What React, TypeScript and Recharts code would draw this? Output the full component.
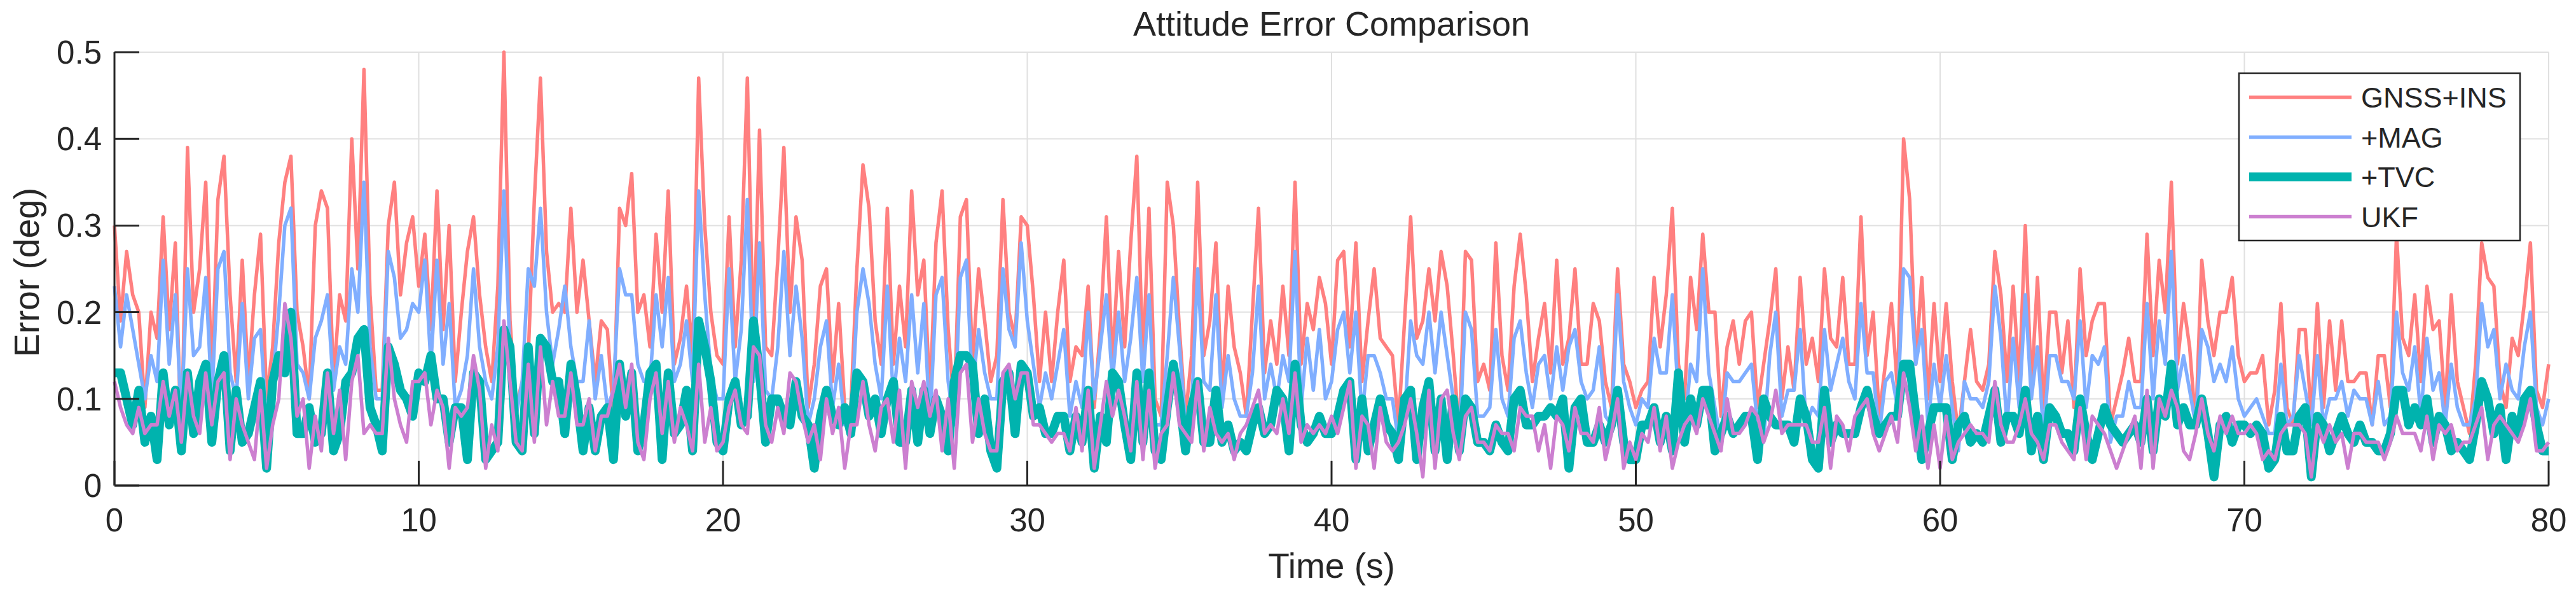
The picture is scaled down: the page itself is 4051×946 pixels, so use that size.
import { LineChart, Line, XAxis, YAxis, CartesianGrid } from 'recharts'

const W = 4051
const H = 946
const FONT = '"Liberation Sans", Arial, Helvetica, sans-serif'
const INK = '#262626'

// samples every 0.2 s, 0..80 s
const SAMPLE_STEP = 0.2

const timeTicks = [0, 10, 20, 30, 40, 50, 60, 70, 80]
const errorTicks = [0, 0.1, 0.2, 0.3, 0.4, 0.5]

const gnssIns = [
  0.30,0.19,0.27,0.22,0.20,0.09,0.20,0.17,0.31,0.18,
  0.28,0.04,0.39,0.20,0.25,0.35,0.12,0.33,0.38,0.22,
  0.12,0.26,0.12,0.22,0.29,0.10,0.16,0.28,0.35,0.38,
  0.20,0.16,0.10,0.30,0.34,0.32,0.12,0.22,0.19,0.40,
  0.25,0.48,0.22,0.11,0.11,0.30,0.35,0.22,0.28,0.31,
  0.23,0.29,0.18,0.34,0.18,0.30,0.12,0.20,0.27,0.31,
  0.22,0.16,0.12,0.23,0.50,0.19,0.09,0.12,0.15,0.33,
  0.47,0.27,0.20,0.21,0.20,0.32,0.20,0.26,0.19,0.12,
  0.19,0.18,0.08,0.32,0.30,0.36,0.20,0.22,0.16,0.29,
  0.20,0.34,0.14,0.17,0.23,0.15,0.47,0.30,0.20,0.15,
  0.14,0.31,0.16,0.26,0.47,0.16,0.41,0.16,0.15,0.26,
  0.39,0.20,0.31,0.26,0.09,0.14,0.23,0.25,0.12,0.21,
  0.09,0.09,0.25,0.37,0.32,0.19,0.14,0.32,0.14,0.23,
  0.16,0.34,0.22,0.26,0.10,0.28,0.34,0.18,0.09,0.31,
  0.33,0.14,0.25,0.19,0.12,0.15,0.33,0.20,0.17,0.31,
  0.30,0.22,0.12,0.20,0.12,0.20,0.26,0.12,0.16,0.15,
  0.23,0.09,0.18,0.31,0.14,0.27,0.16,0.28,0.38,0.14,
  0.32,0.10,0.08,0.35,0.30,0.18,0.08,0.15,0.35,0.15,
  0.19,0.28,0.10,0.23,0.16,0.13,0.08,0.20,0.32,0.13,
  0.19,0.14,0.23,0.15,0.35,0.14,0.21,0.18,0.24,0.21,
  0.14,0.26,0.27,0.16,0.28,0.12,0.19,0.25,0.17,0.16,
  0.15,0.07,0.19,0.31,0.17,0.19,0.25,0.19,0.27,0.23,
  0.15,0.06,0.27,0.26,0.12,0.14,0.11,0.28,0.15,0.11,
  0.23,0.29,0.22,0.12,0.17,0.21,0.13,0.26,0.14,0.17,
  0.25,0.14,0.14,0.21,0.19,0.12,0.09,0.25,0.14,0.12,
  0.09,0.11,0.12,0.24,0.16,0.22,0.32,0.14,0.10,0.24,
  0.18,0.29,0.20,0.20,0.08,0.16,0.19,0.14,0.19,0.20,
  0.09,0.14,0.19,0.25,0.10,0.16,0.11,0.24,0.14,0.17,
  0.12,0.25,0.17,0.16,0.24,0.14,0.14,0.31,0.15,0.20,
  0.08,0.14,0.21,0.11,0.40,0.33,0.14,0.24,0.10,0.21,
  0.12,0.21,0.12,0.06,0.12,0.18,0.12,0.11,0.14,0.27,
  0.22,0.12,0.23,0.12,0.30,0.11,0.24,0.09,0.20,0.20,
  0.13,0.19,0.09,0.25,0.15,0.19,0.21,0.21,0.07,0.10,
  0.13,0.17,0.12,0.12,0.29,0.15,0.26,0.20,0.35,0.14,
  0.21,0.16,0.07,0.26,0.19,0.15,0.20,0.20,0.24,0.15,
  0.12,0.13,0.13,0.15,0.07,0.11,0.21,0.09,0.07,0.18,
  0.18,0.08,0.21,0.09,0.19,0.11,0.19,0.12,0.12,0.13,
  0.13,0.07,0.15,0.15,0.09,0.29,0.17,0.15,0.22,0.12,
  0.23,0.18,0.19,0.09,0.22,0.12,0.09,0.06,0.14,0.28,
  0.24,0.23,0.12,0.09,0.17,0.15,0.21,0.28,0.11,0.09,
  0.14,
]

const mag = [
  0.23,0.16,0.22,0.18,0.14,0.10,0.15,0.12,0.26,0.14,
  0.22,0.08,0.25,0.15,0.16,0.24,0.10,0.25,0.27,0.13,
  0.10,0.21,0.10,0.17,0.18,0.07,0.12,0.20,0.30,0.32,
  0.14,0.13,0.10,0.17,0.19,0.22,0.11,0.16,0.14,0.25,
  0.20,0.35,0.16,0.10,0.10,0.27,0.24,0.17,0.18,0.21,
  0.20,0.26,0.14,0.26,0.14,0.21,0.09,0.11,0.15,0.25,
  0.16,0.12,0.10,0.16,0.34,0.15,0.08,0.12,0.25,0.23,
  0.32,0.20,0.14,0.18,0.23,0.16,0.12,0.12,0.19,0.10,
  0.15,0.09,0.11,0.25,0.22,0.22,0.14,0.12,0.12,0.22,
  0.16,0.24,0.12,0.14,0.19,0.12,0.34,0.22,0.13,0.10,
  0.10,0.25,0.12,0.18,0.33,0.12,0.28,0.11,0.10,0.16,
  0.27,0.15,0.23,0.17,0.07,0.10,0.16,0.19,0.09,0.14,
  0.07,0.07,0.20,0.25,0.21,0.14,0.10,0.23,0.10,0.17,
  0.12,0.22,0.13,0.21,0.07,0.22,0.24,0.12,0.07,0.24,
  0.26,0.11,0.18,0.13,0.10,0.10,0.25,0.18,0.16,0.28,
  0.19,0.14,0.09,0.13,0.10,0.14,0.18,0.08,0.12,0.09,
  0.20,0.10,0.16,0.22,0.12,0.20,0.12,0.17,0.24,0.12,
  0.22,0.07,0.07,0.15,0.24,0.16,0.07,0.09,0.25,0.12,
  0.11,0.22,0.09,0.15,0.10,0.08,0.08,0.13,0.23,0.10,
  0.14,0.10,0.15,0.12,0.27,0.09,0.17,0.11,0.18,0.10,
  0.12,0.18,0.20,0.13,0.20,0.08,0.15,0.15,0.13,0.10,
  0.10,0.05,0.08,0.19,0.15,0.14,0.20,0.13,0.20,0.15,
  0.10,0.05,0.20,0.18,0.08,0.08,0.09,0.18,0.10,0.08,
  0.17,0.19,0.13,0.09,0.14,0.15,0.10,0.16,0.11,0.16,
  0.18,0.12,0.10,0.11,0.16,0.08,0.07,0.22,0.12,0.09,
  0.07,0.10,0.09,0.17,0.13,0.13,0.22,0.10,0.06,0.14,
  0.12,0.25,0.13,0.09,0.05,0.13,0.12,0.12,0.13,0.14,
  0.07,0.05,0.15,0.20,0.08,0.11,0.11,0.18,0.07,0.09,
  0.08,0.18,0.11,0.14,0.17,0.12,0.10,0.21,0.13,0.13,
  0.06,0.12,0.13,0.09,0.25,0.24,0.14,0.18,0.07,0.14,
  0.09,0.15,0.09,0.04,0.12,0.10,0.10,0.09,0.12,0.23,
  0.17,0.07,0.17,0.09,0.22,0.10,0.16,0.06,0.15,0.15,
  0.12,0.12,0.10,0.19,0.09,0.15,0.14,0.16,0.05,0.08,
  0.08,0.12,0.09,0.09,0.21,0.10,0.19,0.14,0.27,0.11,
  0.15,0.11,0.07,0.18,0.16,0.12,0.14,0.12,0.16,0.10,
  0.08,0.09,0.10,0.08,0.06,0.06,0.14,0.07,0.08,0.15,
  0.11,0.07,0.15,0.07,0.10,0.10,0.12,0.08,0.11,0.10,
  0.10,0.07,0.12,0.07,0.08,0.20,0.13,0.11,0.16,0.08,
  0.17,0.11,0.13,0.07,0.14,0.09,0.07,0.07,0.10,0.21,
  0.16,0.18,0.10,0.14,0.11,0.10,0.16,0.20,0.09,0.07,
  0.10,
]

const tvc = [
  0.13,0.13,0.10,0.07,0.11,0.05,0.08,0.03,0.13,0.07,
  0.11,0.04,0.13,0.06,0.12,0.14,0.05,0.12,0.15,0.04,
  0.11,0.05,0.06,0.09,0.12,0.02,0.12,0.15,0.13,0.20,
  0.06,0.06,0.09,0.05,0.06,0.13,0.04,0.06,0.12,0.13,
  0.17,0.18,0.09,0.07,0.04,0.16,0.14,0.11,0.10,0.08,
  0.13,0.12,0.15,0.10,0.10,0.05,0.09,0.09,0.03,0.13,
  0.12,0.03,0.04,0.05,0.18,0.16,0.05,0.04,0.16,0.06,
  0.17,0.16,0.12,0.12,0.06,0.14,0.10,0.04,0.09,0.04,
  0.08,0.09,0.03,0.14,0.08,0.13,0.04,0.07,0.13,0.14,
  0.03,0.13,0.06,0.07,0.11,0.04,0.19,0.16,0.12,0.05,
  0.04,0.10,0.12,0.07,0.08,0.19,0.13,0.05,0.10,0.10,
  0.08,0.07,0.12,0.08,0.07,0.02,0.08,0.11,0.08,0.07,
  0.09,0.06,0.13,0.12,0.08,0.10,0.06,0.10,0.12,0.05,
  0.05,0.11,0.05,0.11,0.06,0.10,0.08,0.04,0.12,0.15,
  0.15,0.14,0.06,0.10,0.04,0.02,0.12,0.13,0.06,0.14,
  0.13,0.08,0.09,0.06,0.06,0.08,0.08,0.04,0.08,0.05,
  0.11,0.02,0.08,0.05,0.13,0.12,0.07,0.03,0.13,0.05,
  0.13,0.04,0.03,0.09,0.14,0.10,0.04,0.09,0.12,0.05,
  0.05,0.11,0.05,0.07,0.04,0.05,0.04,0.07,0.09,0.06,
  0.07,0.11,0.10,0.04,0.14,0.07,0.05,0.06,0.08,0.06,
  0.06,0.08,0.11,0.12,0.03,0.10,0.04,0.07,0.10,0.07,
  0.06,0.03,0.10,0.11,0.03,0.09,0.12,0.04,0.10,0.03,
  0.10,0.04,0.10,0.09,0.05,0.05,0.04,0.07,0.05,0.04,
  0.10,0.11,0.07,0.07,0.08,0.08,0.09,0.08,0.10,0.02,
  0.09,0.10,0.05,0.05,0.07,0.05,0.07,0.11,0.05,0.03,
  0.03,0.07,0.07,0.09,0.05,0.08,0.04,0.13,0.05,0.10,
  0.07,0.11,0.11,0.04,0.06,0.08,0.06,0.07,0.08,0.08,
  0.03,0.10,0.08,0.07,0.07,0.07,0.05,0.10,0.08,0.03,
  0.02,0.11,0.05,0.07,0.06,0.06,0.06,0.09,0.11,0.08,
  0.06,0.07,0.08,0.08,0.14,0.14,0.08,0.03,0.06,0.09,
  0.09,0.09,0.03,0.07,0.08,0.05,0.06,0.05,0.08,0.11,
  0.05,0.08,0.08,0.06,0.11,0.04,0.08,0.03,0.09,0.08,
  0.06,0.06,0.04,0.10,0.06,0.03,0.06,0.09,0.07,0.06,
  0.05,0.06,0.07,0.05,0.10,0.04,0.10,0.08,0.14,0.07,
  0.09,0.07,0.07,0.10,0.06,0.01,0.07,0.08,0.05,0.07,
  0.07,0.06,0.07,0.06,0.02,0.03,0.08,0.04,0.04,0.08,
  0.09,0.01,0.08,0.07,0.04,0.06,0.08,0.06,0.05,0.07,
  0.05,0.05,0.04,0.04,0.06,0.11,0.11,0.07,0.09,0.07,
  0.10,0.05,0.08,0.07,0.04,0.05,0.04,0.03,0.07,0.12,
  0.10,0.06,0.09,0.03,0.08,0.06,0.10,0.11,0.07,0.04,
  0.04,
]

const ukf = [
  0.12,0.09,0.07,0.06,0.09,0.06,0.07,0.07,0.12,0.08,
  0.11,0.05,0.13,0.08,0.06,0.13,0.07,0.12,0.13,0.03,
  0.10,0.07,0.05,0.03,0.11,0.02,0.07,0.10,0.21,0.17,
  0.08,0.10,0.02,0.08,0.04,0.13,0.06,0.11,0.03,0.12,
  0.15,0.06,0.07,0.06,0.06,0.17,0.10,0.07,0.05,0.12,
  0.12,0.13,0.07,0.11,0.09,0.02,0.09,0.08,0.09,0.15,
  0.11,0.02,0.07,0.04,0.19,0.12,0.05,0.04,0.14,0.05,
  0.16,0.07,0.12,0.08,0.08,0.13,0.07,0.07,0.10,0.04,
  0.08,0.08,0.11,0.14,0.09,0.14,0.05,0.03,0.10,0.13,
  0.06,0.12,0.05,0.09,0.07,0.04,0.14,0.05,0.09,0.04,
  0.05,0.09,0.11,0.07,0.06,0.16,0.15,0.07,0.05,0.09,
  0.06,0.13,0.12,0.08,0.05,0.07,0.03,0.10,0.06,0.09,
  0.02,0.07,0.07,0.12,0.07,0.04,0.09,0.10,0.05,0.11,
  0.02,0.12,0.09,0.12,0.08,0.11,0.04,0.10,0.02,0.13,
  0.14,0.05,0.10,0.06,0.04,0.04,0.13,0.14,0.10,0.13,
  0.13,0.07,0.07,0.06,0.05,0.06,0.06,0.04,0.09,0.04,
  0.11,0.02,0.07,0.12,0.08,0.11,0.08,0.04,0.12,0.03,
  0.11,0.02,0.06,0.07,0.13,0.07,0.06,0.05,0.12,0.04,
  0.09,0.06,0.05,0.06,0.03,0.06,0.07,0.09,0.11,0.06,
  0.07,0.06,0.10,0.06,0.13,0.05,0.07,0.06,0.07,0.06,
  0.08,0.06,0.09,0.12,0.02,0.08,0.07,0.02,0.09,0.05,
  0.04,0.05,0.07,0.10,0.06,0.01,0.11,0.02,0.10,0.11,
  0.06,0.03,0.08,0.09,0.05,0.05,0.04,0.07,0.06,0.06,
  0.04,0.09,0.08,0.08,0.04,0.07,0.02,0.08,0.07,0.04,
  0.09,0.06,0.06,0.05,0.09,0.03,0.06,0.10,0.02,0.05,
  0.03,0.06,0.05,0.09,0.04,0.08,0.02,0.05,0.07,0.08,
  0.06,0.10,0.08,0.06,0.04,0.10,0.06,0.06,0.07,0.09,
  0.08,0.05,0.07,0.11,0.06,0.07,0.07,0.07,0.07,0.05,
  0.05,0.09,0.02,0.08,0.07,0.04,0.08,0.09,0.10,0.06,
  0.04,0.06,0.08,0.05,0.13,0.09,0.04,0.08,0.02,0.07,
  0.02,0.08,0.03,0.05,0.06,0.07,0.06,0.06,0.05,0.12,
  0.07,0.05,0.05,0.07,0.10,0.06,0.05,0.03,0.07,0.07,
  0.05,0.04,0.03,0.09,0.03,0.08,0.07,0.06,0.04,0.02,
  0.04,0.06,0.08,0.02,0.11,0.02,0.10,0.08,0.11,0.09,
  0.04,0.03,0.06,0.10,0.06,0.04,0.08,0.06,0.08,0.06,
  0.06,0.07,0.06,0.03,0.04,0.03,0.06,0.07,0.07,0.07,
  0.06,0.01,0.07,0.05,0.07,0.05,0.06,0.02,0.06,0.06,
  0.05,0.05,0.05,0.03,0.05,0.08,0.06,0.06,0.06,0.04,
  0.08,0.03,0.07,0.06,0.07,0.04,0.05,0.05,0.07,0.09,
  0.03,0.07,0.08,0.07,0.06,0.05,0.07,0.10,0.04,0.04,
  0.05,
]

// drawing order matters: UKF ends up on top of +TVC
const series = [
  { key: 'gnssIns', name: 'GNSS+INS', color: '#ff8080', width: 5.5 },
  { key: 'mag', name: '+MAG', color: '#80aeff', width: 5.5 },
  { key: 'tvc', name: '+TVC', color: '#00b3ae', width: 14 },
  { key: 'ukf', name: 'UKF', color: '#cc7fd0', width: 5.5 },
]

const chartData = gnssIns.map((v, i) => ({
  t: Math.round(i * SAMPLE_STEP * 10) / 10,
  gnssIns: v,
  mag: mag[i],
  tvc: tvc[i],
  ukf: ukf[i],
}))

function TimeTick(props: any) {
  const { x, y, payload } = props
  return (
    <text x={x} y={y + 111} textAnchor="middle" fontSize={51} fill={INK} fontFamily={FONT}>
      {payload.value}
    </text>
  )
}

function ErrorTick(props: any) {
  const { x, y, payload } = props
  return (
    <text x={x - 59} y={y + 18} textAnchor="end" fontSize={51} fill={INK} fontFamily={FONT}>
      {String(payload.value)}
    </text>
  )
}

export default function App() {
  const legendTop = 115
  const legendRow = 62.5

  return (
    <div style={{ position: 'relative', width: W, height: H, background: '#fff' }}>
      <style>{'body{margin:0}'}</style>
      <LineChart width={W} height={H} data={chartData} margin={{ top: 82, right: 43, bottom: 0, left: 0 }}>
        <CartesianGrid stroke="#e0e0e0" strokeWidth={2} />
        <XAxis
          dataKey="t"
          type="number"
          domain={[0, 80]}
          ticks={timeTicks}
          interval={0}
          height={183}
          tickSize={-39}
          tickMargin={0}
          stroke={INK}
          strokeWidth={3}
          tick={<TimeTick />}
        />
        <XAxis
          xAxisId="top"
          orientation="top"
          type="number"
          domain={[0, 80]}
          allowDataOverflow
          ticks={timeTicks}
          interval={0}
          height={0}
          tickSize={-39}
          stroke={INK}
          strokeWidth={3}
          tick={false}
        />
        <YAxis
          type="number"
          domain={[0, 0.5]}
          ticks={errorTicks}
          interval={0}
          width={180}
          tickSize={-39}
          tickMargin={0}
          stroke={INK}
          strokeWidth={3}
          tick={<ErrorTick />}
        />
        <YAxis
          yAxisId="right"
          orientation="right"
          type="number"
          domain={[0, 0.5]}
          allowDataOverflow
          ticks={errorTicks}
          interval={0}
          width={0}
          tickSize={-39}
          stroke={INK}
          strokeWidth={3}
          tick={false}
        />
        {series.map(s => (
          <Line
            key={s.key}
            type="linear"
            dataKey={s.key}
            name={s.name}
            stroke={s.color}
            strokeWidth={s.width}
            strokeLinejoin="round"
            dot={false}
            activeDot={false}
            isAnimationActive={false}
          />
        ))}
      </LineChart>

      {/* title, axis labels and the boxed legend sit on top of the plot */}
      <svg width={W} height={H} style={{ position: 'absolute', left: 0, top: 0 }} fontFamily={FONT}>
        <text x={2094} y={56} textAnchor="middle" fontSize={54} fill={INK}>
          Attitude Error Comparison
        </text>
        <text x={2094} y={908} textAnchor="middle" fontSize={55} fill={INK}>
          Time (s)
        </text>
        <text x={61} y={428} textAnchor="middle" fontSize={55} fill={INK} transform="rotate(-90 61 428)">
          Error (deg)
        </text>
        <rect x={3521} y={legendTop} width={442} height={263} fill="#fff" stroke={INK} strokeWidth={2.5} />
        {series.map((s, i) => {
          const cy = legendTop + 38 + i * legendRow
          return (
            <g key={s.key}>
              <line x1={3537} x2={3698} y1={cy} y2={cy} stroke={s.color} strokeWidth={s.width} />
              <text x={3713} y={cy + 16} fontSize={45} fill={INK}>
                {s.name}
              </text>
            </g>
          )
        })}
      </svg>
    </div>
  )
}
